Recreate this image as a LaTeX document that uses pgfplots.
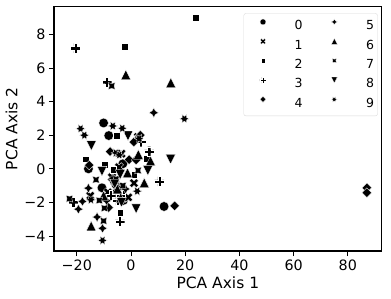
\documentclass[border=0pt]{standalone}
\usepackage{fontspec}
\setmainfont{DejaVu Sans}
\usepackage{pgfplots}
\pgfplotsset{compat=1.18}
\usetikzlibrary{calc}

\newcommand{\mpt}[2]{\pgfqpoint{#1\pgfplotmarksize}{#2\pgfplotmarksize}}
\newcommand{\mpl}[2]{\pgfqpointpolar{#1}{#2\pgfplotmarksize}}
\pgfdeclareplotmark{mSq}{\pgfpathmoveto{\mpt{-0.707}{-0.707}}\pgfpathlineto{\mpt{0.707}{-0.707}}\pgfpathlineto{\mpt{0.707}{0.707}}\pgfpathlineto{\mpt{-0.707}{0.707}}\pgfpathclose\pgfusepathqfillstroke}
\pgfdeclareplotmark{mDi}{\pgfpathmoveto{\mpt{0}{1}}\pgfpathlineto{\mpt{-1}{0}}\pgfpathlineto{\mpt{0}{-1}}\pgfpathlineto{\mpt{1}{0}}\pgfpathclose\pgfusepathqfillstroke}
\pgfdeclareplotmark{mTu}{\pgfpathmoveto{\mpt{0}{1}}\pgfpathlineto{\mpt{-1}{-1}}\pgfpathlineto{\mpt{1}{-1}}\pgfpathclose\pgfusepathqfillstroke}
\pgfdeclareplotmark{mTd}{\pgfpathmoveto{\mpt{0}{-1}}\pgfpathlineto{\mpt{-1}{1}}\pgfpathlineto{\mpt{1}{1}}\pgfpathclose\pgfusepathqfillstroke}
\pgfdeclareplotmark{mP}{\pgfpathmoveto{\mpt{-0.333}{-1}}\pgfpathlineto{\mpt{-0.333}{-0.333}}\pgfpathlineto{\mpt{-1}{-0.333}}\pgfpathlineto{\mpt{-1}{0.333}}\pgfpathlineto{\mpt{-0.333}{0.333}}\pgfpathlineto{\mpt{-0.333}{1}}\pgfpathlineto{\mpt{0.333}{1}}\pgfpathlineto{\mpt{0.333}{0.333}}\pgfpathlineto{\mpt{1}{0.333}}\pgfpathlineto{\mpt{1}{-0.333}}\pgfpathlineto{\mpt{0.333}{-0.333}}\pgfpathlineto{\mpt{0.333}{-1}}\pgfpathclose\pgfusepathqfillstroke}
\pgfdeclareplotmark{mX}{\pgfpathmoveto{\mpt{0.471}{-0.943}}\pgfpathlineto{\mpt{0}{-0.471}}\pgfpathlineto{\mpt{-0.471}{-0.943}}\pgfpathlineto{\mpt{-0.943}{-0.471}}\pgfpathlineto{\mpt{-0.471}{0}}\pgfpathlineto{\mpt{-0.943}{0.471}}\pgfpathlineto{\mpt{-0.471}{0.943}}\pgfpathlineto{\mpt{0}{0.471}}\pgfpathlineto{\mpt{0.471}{0.943}}\pgfpathlineto{\mpt{0.943}{0.471}}\pgfpathlineto{\mpt{0.471}{0}}\pgfpathlineto{\mpt{0.943}{-0.471}}\pgfpathclose\pgfusepathqfillstroke}
\pgfdeclareplotmark{mSa}{\pgfpathmoveto{\mpl{90}{1}}\pgfpathlineto{\mpl{135}{0.5}}\pgfpathlineto{\mpl{180}{1}}\pgfpathlineto{\mpl{225}{0.5}}\pgfpathlineto{\mpl{270}{1}}\pgfpathlineto{\mpl{315}{0.5}}\pgfpathlineto{\mpl{0}{1}}\pgfpathlineto{\mpl{45}{0.5}}\pgfpathclose\pgfusepathqfillstroke}
\pgfdeclareplotmark{mSb}{\pgfpathmoveto{\mpl{135}{1}}\pgfpathlineto{\mpl{180}{0.5}}\pgfpathlineto{\mpl{225}{1}}\pgfpathlineto{\mpl{270}{0.5}}\pgfpathlineto{\mpl{315}{1}}\pgfpathlineto{\mpl{0}{0.5}}\pgfpathlineto{\mpl{45}{1}}\pgfpathlineto{\mpl{90}{0.5}}\pgfpathclose\pgfusepathqfillstroke}
\pgfdeclareplotmark{mSc}{\pgfpathmoveto{\mpl{120}{1}}\pgfpathlineto{\mpl{150}{0.5}}\pgfpathlineto{\mpl{180}{1}}\pgfpathlineto{\mpl{210}{0.5}}\pgfpathlineto{\mpl{240}{1}}\pgfpathlineto{\mpl{270}{0.5}}\pgfpathlineto{\mpl{300}{1}}\pgfpathlineto{\mpl{330}{0.5}}\pgfpathlineto{\mpl{0}{1}}\pgfpathlineto{\mpl{30}{0.5}}\pgfpathlineto{\mpl{60}{1}}\pgfpathlineto{\mpl{90}{0.5}}\pgfpathclose\pgfusepathqfillstroke}

\pgfplotsset{sc/.style={only marks, mark size=4.8pt, mark options={draw=white, fill=black, line width=0.3pt, solid}}}

\begin{document}
\begin{tikzpicture}
\begin{axis}[
  name=ax,
  scale only axis, width=327.7pt, height=244.5pt,
  xmin=-28.4, xmax=92.5, ymin=-4.89, ymax=9.66,
  xtick={-20,0,20,40,60,80}, xticklabels={−20,0,20,40,60,80},
  ytick={-4,-2,0,2,4,6,8}, yticklabels={−4,−2,0,2,4,6,8},
  xtick pos=bottom, ytick pos=left, tick align=outside,
  major tick length=5pt,
  tick style={black, line width=0.9pt},
  axis line style={black, line width=1.1pt},
  tick label style={font=\fontsize{14.3}{16}\selectfont},
  label style={font=\fontsize{15.5}{18}\selectfont},
  xlabel={PCA Axis 1}, ylabel={PCA Axis 2},
  legend columns=5, transpose legend,
  legend image code/.code={\path (0pt,0pt) (38pt,0pt); \draw[#1, mark size=3pt] plot coordinates {(19pt,4pt)};},
  legend style={at={(rel axis cs:0.9878,0.972)}, anchor=north east,
    draw=black!15, rounded corners=2pt, fill=white,
    font=\fontsize{12.5}{14}\selectfont,
    inner xsep=0pt, inner ysep=5pt,
    nodes={inner xsep=3.5pt, inner ysep=2pt},
    column sep=9pt, row sep=4.6pt},
  legend cell align=left,
]
\addplot[sc, mark=*] coordinates {(-10.1,2.73) (-8.2,1.98) (-10.7,-1.13) (12.2,-2.24) (-15.7,0.0) (-2.8,-1.88) (-6.0,-0.8) (-3.0,0.3) (-4.5,-1.1)};
\addlegendentry{0}
\addplot[sc, mark=mX] coordinates {(-4.4,0.1) (1.1,-0.85) (-15.0,-1.6) (-5.5,-1.2) (-3.5,0.9) (-7.0,-0.5) (-1.0,-1.7) (2.5,1.9) (-8.5,-1.4)};
\addlegendentry{1}
\addplot[sc, mark=mSq] coordinates {(23.9,9.0) (-2.4,7.26) (-5.4,1.98) (5.7,0.61) (-16.6,0.57) (-9.8,0.24) (-6.6,-0.06) (1.2,-0.34) (-4.0,-2.63) (-3.5,-1.5)};
\addlegendentry{2}
\addplot[sc, mark=mP] coordinates {(-20.5,7.18) (-8.9,5.16) (3.7,1.6) (6.7,1.03) (10.5,-0.75) (-7.4,-1.58) (-21.3,-1.98) (-5.0,-1.88) (-4.1,-3.13) (-3.8,-1.6)};
\addlegendentry{3}
\addplot[sc, mark=mDi] coordinates {(3.4,2.0) (1.1,1.6) (-7.7,1.03) (-0.7,0.55) (1.9,0.53) (-15.4,0.22) (-8.3,-2.3) (16.1,-2.2) (87.0,-1.13) (87.0,-1.42) (-6.5,-0.6)};
\addlegendentry{4}
\addplot[sc, mark=mSa] coordinates {(8.4,3.34) (-15.7,-1.15) (-17.9,-1.94) (-19.4,-2.4) (-12.5,-2.87) (-10.5,-3.54) (-5.8,-0.9) (-2.0,-1.2) (-9.0,-1.9)};
\addlegendentry{5}
\addplot[sc, mark=mTu] coordinates {(-1.9,5.6) (14.7,5.12) (2.7,0.85) (7.2,0.47) (-1.3,-0.24) (4.9,-0.83) (-10.1,-1.6) (-14.7,-3.4) (-3.8,-1.72) (-5.0,-1.2)};
\addlegendentry{6}
\addplot[sc, mark=mSb] coordinates {(-7.1,4.93) (2.6,-0.1) (-12.9,-0.65) (-11.7,-1.88) (-22.7,-1.78) (-9.8,-2.34) (-10.1,-3.1) (-4.5,0.9) (-5.5,-0.6) (-3.0,-1.0)};
\addlegendentry{7}
\addplot[sc, mark=mTd] coordinates {(-1.1,1.96) (-14.6,1.38) (14.6,0.57) (-10.7,-0.14) (-4.0,-0.34) (6.2,-0.1) (1.9,-2.37) (-3.5,-2.0) (-6.0,-0.9)};
\addlegendentry{8}
\addplot[sc, mark=mSc] coordinates {(19.7,2.98) (-18.6,2.39) (-17.2,2.0) (-6.7,2.55) (-3.2,2.41) (-5.6,0.95) (-4.3,0.83) (2.3,-1.33) (-14.8,-1.84) (-10.5,-4.26) (3.0,1.8)};
\addlegendentry{9}
\end{axis}
\pgfresetboundingbox
\path ($(ax.south west)+(-54pt,-48pt)$) rectangle ($(ax.north east)+(9.3pt,6.5pt)$);
\end{tikzpicture}
\end{document}
